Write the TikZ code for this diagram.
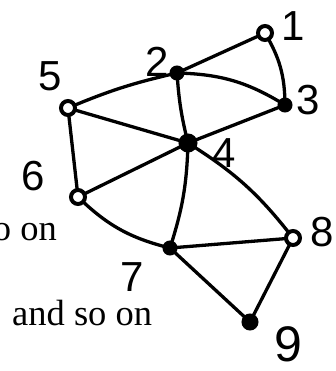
\documentclass[tikz,border=0pt]{standalone}
\usepackage{fontspec}
\setmainfont{Liberation Serif}
\newfontfamily\handfont{Liberation Sans}
\begin{document}
\begin{tikzpicture}[x=1pt,y=-1pt,
  edge/.style={line width=3.3pt,line cap=round},
  dotfill/.style={circle,fill=black,draw=black,line width=1pt,minimum size=14pt,inner sep=0pt},
  dotring/.style={circle,fill=white,draw=black,line width=4pt,minimum size=14pt,inner sep=0pt},
  lbl/.style={font=\handfont\fontsize{42}{42}\selectfont,inner sep=0pt},
  txt/.style={font=\fontsize{36.5}{36.5}\selectfont,inner sep=0pt}]
\useasboundingbox (0,0) rectangle (336,371);
\clip (0,0) rectangle (336,371);
\coordinate (p1) at (265,33);
\coordinate (p2) at (177,73);
\coordinate (p3) at (285,105);
\coordinate (p4) at (188,143);
\coordinate (p5) at (68,108);
\coordinate (p6) at (78,197);
\coordinate (p7) at (170,248);
\coordinate (p8) at (293,238);
\coordinate (p9) at (250,322);
% edges
\draw[edge] (p1) -- (p2);
\draw[edge] (p1) to[bend left=15] (p3);
\draw[edge] (p2) to[bend left=15] (p3);
\draw[edge] (p5) to[bend left=5] (p2);
\draw[edge] (p2) to[bend right=5] (p4);
\draw[edge] (p3) -- (p4);
\draw[edge] (p5) -- (p4);
\draw[edge] (p5) -- (p6);
\draw[edge] (p6) -- (p4);
\draw[edge] (p6) to[bend right=15] (p7);
\draw[edge] (p4) to[bend left=8] (p7);
\draw[edge] (p4) to[bend left=10] (p8);
\draw[edge] (p7) -- (p8);
\draw[edge] (p7) -- (p9);
\draw[edge] (p8) -- (p9);
% vertices
\node[dotring] (n1) at (p1) {};
\node[dotfill] (n2) at (p2) {};
\node[dotfill] (n3) at (p3) {};
\node[dotfill,minimum size=18pt] (n4) at (p4) {};
\node[dotring] (n5) at (p5) {};
\node[dotring] (n6) at (p6) {};
\node[dotfill] (n7) at (p7) {};
\node[dotring] (n8) at (p8) {};
\node[dotfill,minimum size=16pt] (n9) at (p9) {};
% labels
\node[lbl] (l1) at (293,26) {1};
\node[lbl] (l2) at (157,62) {2};
\node[lbl] (l3) at (308,100) {3};
\node[lbl] (l4) at (224,153) {4};
\node[lbl] (l5) at (50,76) {5};
\node[lbl] (l6) at (33,176) {6};
\node[lbl,anchor=base] (l7) at (132,291) {7};
\node[lbl] (l8) at (322,232) {8};
\node[lbl,font=\handfont\fontsize{50}{50}\selectfont] (l9) at (288,344) {9};
% text
\node[txt,anchor=base east] (t1) at (57,240) {so on};
\node[txt,anchor=base west] (t2) at (12,325) {and so on};
\end{tikzpicture}
\end{document}
